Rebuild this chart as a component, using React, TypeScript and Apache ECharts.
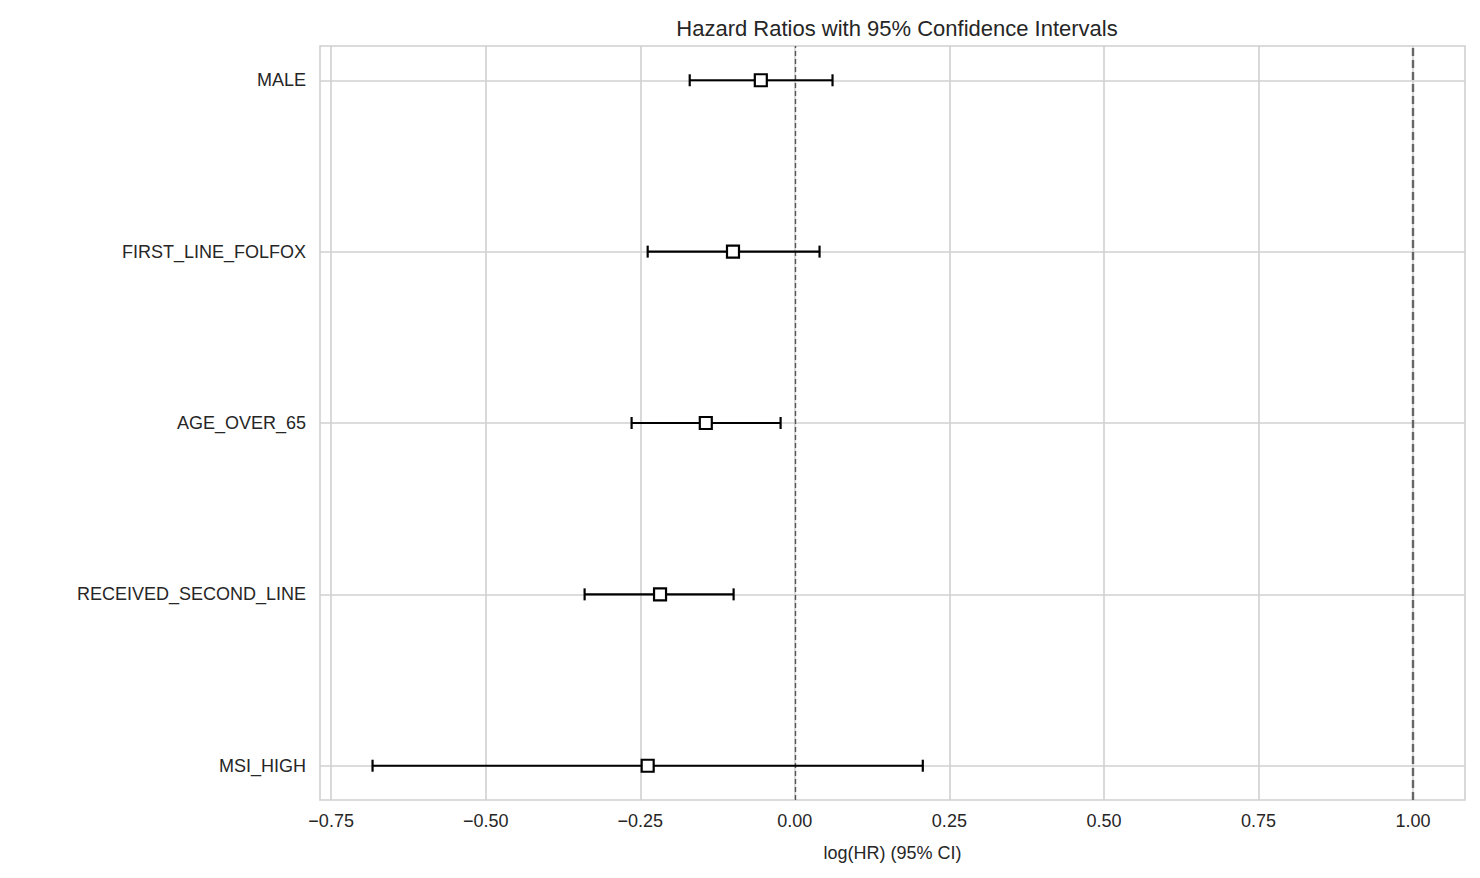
import { useEffect, useRef } from 'react'
import * as echarts from 'echarts'

const covariates = ['MSI_HIGH', 'RECEIVED_SECOND_LINE', 'AGE_OVER_65', 'FIRST_LINE_FOLFOX', 'MALE']
const logHR = [-0.238, -0.218, -0.144, -0.1, -0.055]
const lowerCI = [-0.683, -0.34, -0.264, -0.238, -0.17]
const upperCI = [0.207, -0.099, -0.023, 0.04, 0.061]
const xTicks = [-0.75, -0.5, -0.25, 0, 0.25, 0.5, 0.75, 1.0]

const FONT = 'Liberation Sans, Arial, sans-serif'
const GRID_COLOR = '#d0d0d0'

export default function App() {
  const chartRef = useRef<HTMLDivElement>(null)

  useEffect(() => {
    if (!chartRef.current) return
    const chart = echarts.init(chartRef.current, undefined, { renderer: 'svg' })

    const barData = covariates.map((_, i) => [i, lowerCI[i], upperCI[i]])
    const pointData = covariates.map((_, i) => [logHR[i], i])

    chart.setOption({
      animation: false,
      title: {
        text: 'Hazard Ratios with 95% Confidence Intervals',
        left: 892,
        top: 12,
        textAlign: 'center',
        textStyle: { fontFamily: FONT, fontSize: 22, fontWeight: 'normal', color: '#262626' }
      },
      grid: {
        left: 320, right: 15, top: 46, bottom: 78,
        show: true, borderColor: GRID_COLOR, borderWidth: 1.6
      },
      xAxis: {
        type: 'value',
        min: -0.768,
        max: 1.084,
        name: 'log(HR) (95% CI)',
        nameLocation: 'middle',
        nameGap: 44,
        nameTextStyle: { fontFamily: FONT, fontSize: 18, color: '#262626' },
        axisLine: { show: false },
        axisTick: { show: false },
        splitLine: { show: false },
        axisLabel: {
          customValues: xTicks,
          fontFamily: FONT, fontSize: 18, color: '#262626', margin: 12,
          formatter: (v: number) => v.toFixed(2).replace('-', '\u2212')
        }
      },
      yAxis: {
        type: 'value',
        min: -0.2,
        max: 4.2,
        axisLine: { show: false },
        axisTick: { show: false },
        splitLine: { show: false },
        axisLabel: {
          customValues: [0, 1, 2, 3, 4],
          fontFamily: FONT, fontSize: 18, color: '#262626', margin: 14,
          formatter: (v: number) => covariates[Math.round(v)] ?? ''
        }
      },
      series: [
        {
          type: 'line',
          data: [],
          silent: true,
          markLine: {
            symbol: 'none',
            silent: true,
            label: { show: false },
            lineStyle: { color: GRID_COLOR, type: 'solid', width: 1.6 },
            data: [
              ...xTicks.map((x) => ({ xAxis: x })),
              ...covariates.map((_, i) => ({ yAxis: i }))
            ]
          }
        },
        {
          type: 'line',
          data: [],
          silent: true,
          markLine: {
            symbol: 'none',
            silent: true,
            label: { show: false },
            data: [
              { xAxis: 0, lineStyle: { color: '#555', type: [5, 3], width: 1.4 } },
              { xAxis: 1, lineStyle: { color: '#666', type: [8, 4], width: 2.4 } }
            ]
          }
        },
        {
          type: 'custom',
          data: barData,
          z: 5,
          renderItem: (_params: any, api: any) => {
            const y = api.value(0)
            const lo = api.coord([api.value(1), y])
            const hi = api.coord([api.value(2), y])
            const cap = 6
            const style = { stroke: '#000', lineWidth: 2.2 }
            return {
              type: 'group',
              children: [
                { type: 'line', shape: { x1: lo[0], y1: lo[1], x2: hi[0], y2: hi[1] }, style },
                { type: 'line', shape: { x1: lo[0], y1: lo[1] - cap, x2: lo[0], y2: lo[1] + cap }, style },
                { type: 'line', shape: { x1: hi[0], y1: hi[1] - cap, x2: hi[0], y2: hi[1] + cap }, style }
              ]
            }
          }
        },
        {
          type: 'scatter',
          data: pointData,
          symbol: 'rect',
          symbolSize: 12,
          z: 10,
          itemStyle: { color: '#fff', borderColor: '#000', borderWidth: 2.2, opacity: 1 }
        }
      ]
    })

    return () => chart.dispose()
  }, [])

  return <div ref={chartRef} style={{ width: 1480, height: 878, position: 'absolute', left: 0, top: 0 }} />
}
